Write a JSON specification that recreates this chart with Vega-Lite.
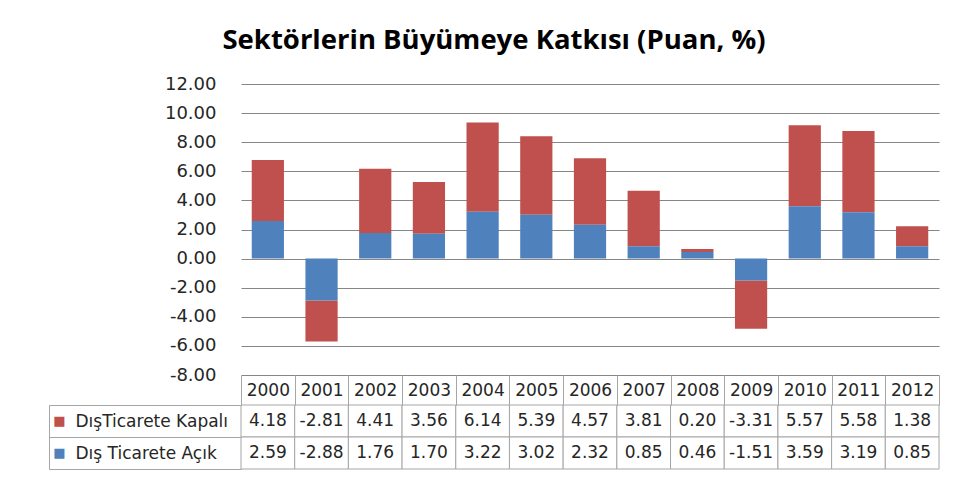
{
  "$schema": "https://vega.github.io/schema/vega-lite/v6.json",
  "padding": {"left": 48, "top": 26, "right": 18, "bottom": 12},
  "background": "white",
  "title": {
    "text": "Sektörlerin Büyümeye Katkısı (Puan, %)",
    "font": "Open Sans",
    "fontSize": 27.5,
    "fontWeight": "bold",
    "color": "#000000",
    "anchor": "middle",
    "frame": "bounds",
    "offset": 21
  },
  "datasets": {
    "d": [
      {"year": "2000", "series": "DışTicarete Kapalı", "value": 4.18},
      {"year": "2000", "series": "Dış Ticarete Açık", "value": 2.59},
      {"year": "2001", "series": "DışTicarete Kapalı", "value": -2.81},
      {"year": "2001", "series": "Dış Ticarete Açık", "value": -2.88},
      {"year": "2002", "series": "DışTicarete Kapalı", "value": 4.41},
      {"year": "2002", "series": "Dış Ticarete Açık", "value": 1.76},
      {"year": "2003", "series": "DışTicarete Kapalı", "value": 3.56},
      {"year": "2003", "series": "Dış Ticarete Açık", "value": 1.70},
      {"year": "2004", "series": "DışTicarete Kapalı", "value": 6.14},
      {"year": "2004", "series": "Dış Ticarete Açık", "value": 3.22},
      {"year": "2005", "series": "DışTicarete Kapalı", "value": 5.39},
      {"year": "2005", "series": "Dış Ticarete Açık", "value": 3.02},
      {"year": "2006", "series": "DışTicarete Kapalı", "value": 4.57},
      {"year": "2006", "series": "Dış Ticarete Açık", "value": 2.32},
      {"year": "2007", "series": "DışTicarete Kapalı", "value": 3.81},
      {"year": "2007", "series": "Dış Ticarete Açık", "value": 0.85},
      {"year": "2008", "series": "DışTicarete Kapalı", "value": 0.20},
      {"year": "2008", "series": "Dış Ticarete Açık", "value": 0.46},
      {"year": "2009", "series": "DışTicarete Kapalı", "value": -3.31},
      {"year": "2009", "series": "Dış Ticarete Açık", "value": -1.51},
      {"year": "2010", "series": "DışTicarete Kapalı", "value": 5.57},
      {"year": "2010", "series": "Dış Ticarete Açık", "value": 3.59},
      {"year": "2011", "series": "DışTicarete Kapalı", "value": 5.58},
      {"year": "2011", "series": "Dış Ticarete Açık", "value": 3.19},
      {"year": "2012", "series": "DışTicarete Kapalı", "value": 1.38},
      {"year": "2012", "series": "Dış Ticarete Açık", "value": 0.85}
    ]
  },
  "bounds": "flush",
  "spacing": 30,
  "vconcat": [
    {
      "width": 698,
      "height": 291,
      "data": {"name": "d"},
      "mark": {"type": "bar"},
      "encoding": {
        "x": {
          "field": "year",
          "type": "ordinal",
          "axis": null,
          "scale": {"paddingInner": 0.4, "paddingOuter": 0.2}
        },
        "y": {
          "field": "value",
          "type": "quantitative",
          "stack": "zero",
          "scale": {"domain": [-8, 12], "nice": false},
          "axis": {
            "values": [-8, -6, -4, -2, 0, 2, 4, 6, 8, 10, 12],
            "format": ".2f",
            "title": null,
            "domain": false,
            "ticks": false,
            "grid": true,
            "gridColor": "#868686",
            "gridWidth": 1,
            "labelFont": "DejaVu Sans",
            "labelFontSize": 18,
            "labelColor": "#262626",
            "labelPadding": 25
          }
        },
        "color": {
          "field": "series",
          "type": "nominal",
          "scale": {
            "domain": ["Dış Ticarete Açık", "DışTicarete Kapalı"],
            "range": ["#4F81BD", "#C0504D"]
          },
          "legend": null
        },
        "order": {"field": "series", "sort": "ascending"}
      }
    },
    {
      "width": 698,
      "height": 64,
      "data": {"name": "d"},
      "layer": [
        {
          "mark": {"type": "rect", "fill": "white", "stroke": "#A6A6A6", "strokeWidth": 1},
          "encoding": {
            "x": {
              "field": "year",
              "type": "ordinal",
              "scale": {"paddingInner": 0, "paddingOuter": 0},
              "axis": {
                "orient": "top",
                "title": null,
                "domain": false,
                "ticks": true,
                "tickBand": "extent",
                "tickSize": 30,
                "tickColor": "#A6A6A6",
                "labelAngle": 0,
                "labelFont": "DejaVu Sans",
                "labelFontSize": 17,
                "labelColor": "#262626",
                "labelPadding": -15,
                "labelBaseline": "middle",
                "labelOverlap": false,
                "grid": false
              }
            },
            "y": {
              "field": "series",
              "type": "nominal",
              "sort": ["DışTicarete Kapalı", "Dış Ticarete Açık"],
              "scale": {"paddingInner": 0, "paddingOuter": 0},
              "axis": {
                "orient": "left",
                "title": null,
                "domain": false,
                "ticks": true,
                "tickBand": "extent",
                "tickSize": 192,
                "tickColor": "#A6A6A6",
                "labelAlign": "left",
                "labelPadding": -26,
                "labelFont": "DejaVu Sans",
                "labelFontSize": 17,
                "labelColor": "#262626",
                "labelLimit": 300,
                "grid": false
              }
            }
          }
        },
        {
          "mark": {"type": "text", "font": "DejaVu Sans", "fontSize": 17, "color": "#262626"},
          "encoding": {
            "x": {"field": "year", "type": "ordinal"},
            "y": {
              "field": "series",
              "type": "nominal",
              "sort": ["DışTicarete Kapalı", "Dış Ticarete Açık"],
              "axis": null
            },
            "text": {"field": "value", "type": "quantitative", "format": ".2f"}
          }
        },
        {
          "mark": {"type": "point", "opacity": 0},
          "encoding": {
            "y": {
              "field": "series",
              "type": "nominal",
              "sort": ["DışTicarete Kapalı", "Dış Ticarete Açık"],
              "axis": {
                "orient": "left",
                "offset": 192,
                "title": null,
                "domain": true,
                "domainColor": "#A6A6A6",
                "ticks": false,
                "tickSize": 0,
                "labelExpr": "'■'",
                "labelAlign": "center",
                "labelPadding": -10,
                "labelFont": "DejaVu Sans",
                "labelFontSize": 13,
                "labelColor": {
                  "condition": {"test": "datum.value === 'DışTicarete Kapalı'", "value": "#C0504D"},
                  "value": "#4F81BD"
                },
                "grid": false
              }
            }
          }
        }
      ],
      "resolve": {"axis": {"y": "independent"}}
    }
  ],
  "resolve": {"scale": {"x": "independent", "y": "independent", "color": "independent"}},
  "config": {
    "view": {"stroke": null},
    "locale": {
      "number": {
        "decimal": ".",
        "thousands": ",",
        "grouping": [3],
        "currency": ["$", ""],
        "minus": "-"
      }
    }
  }
}
